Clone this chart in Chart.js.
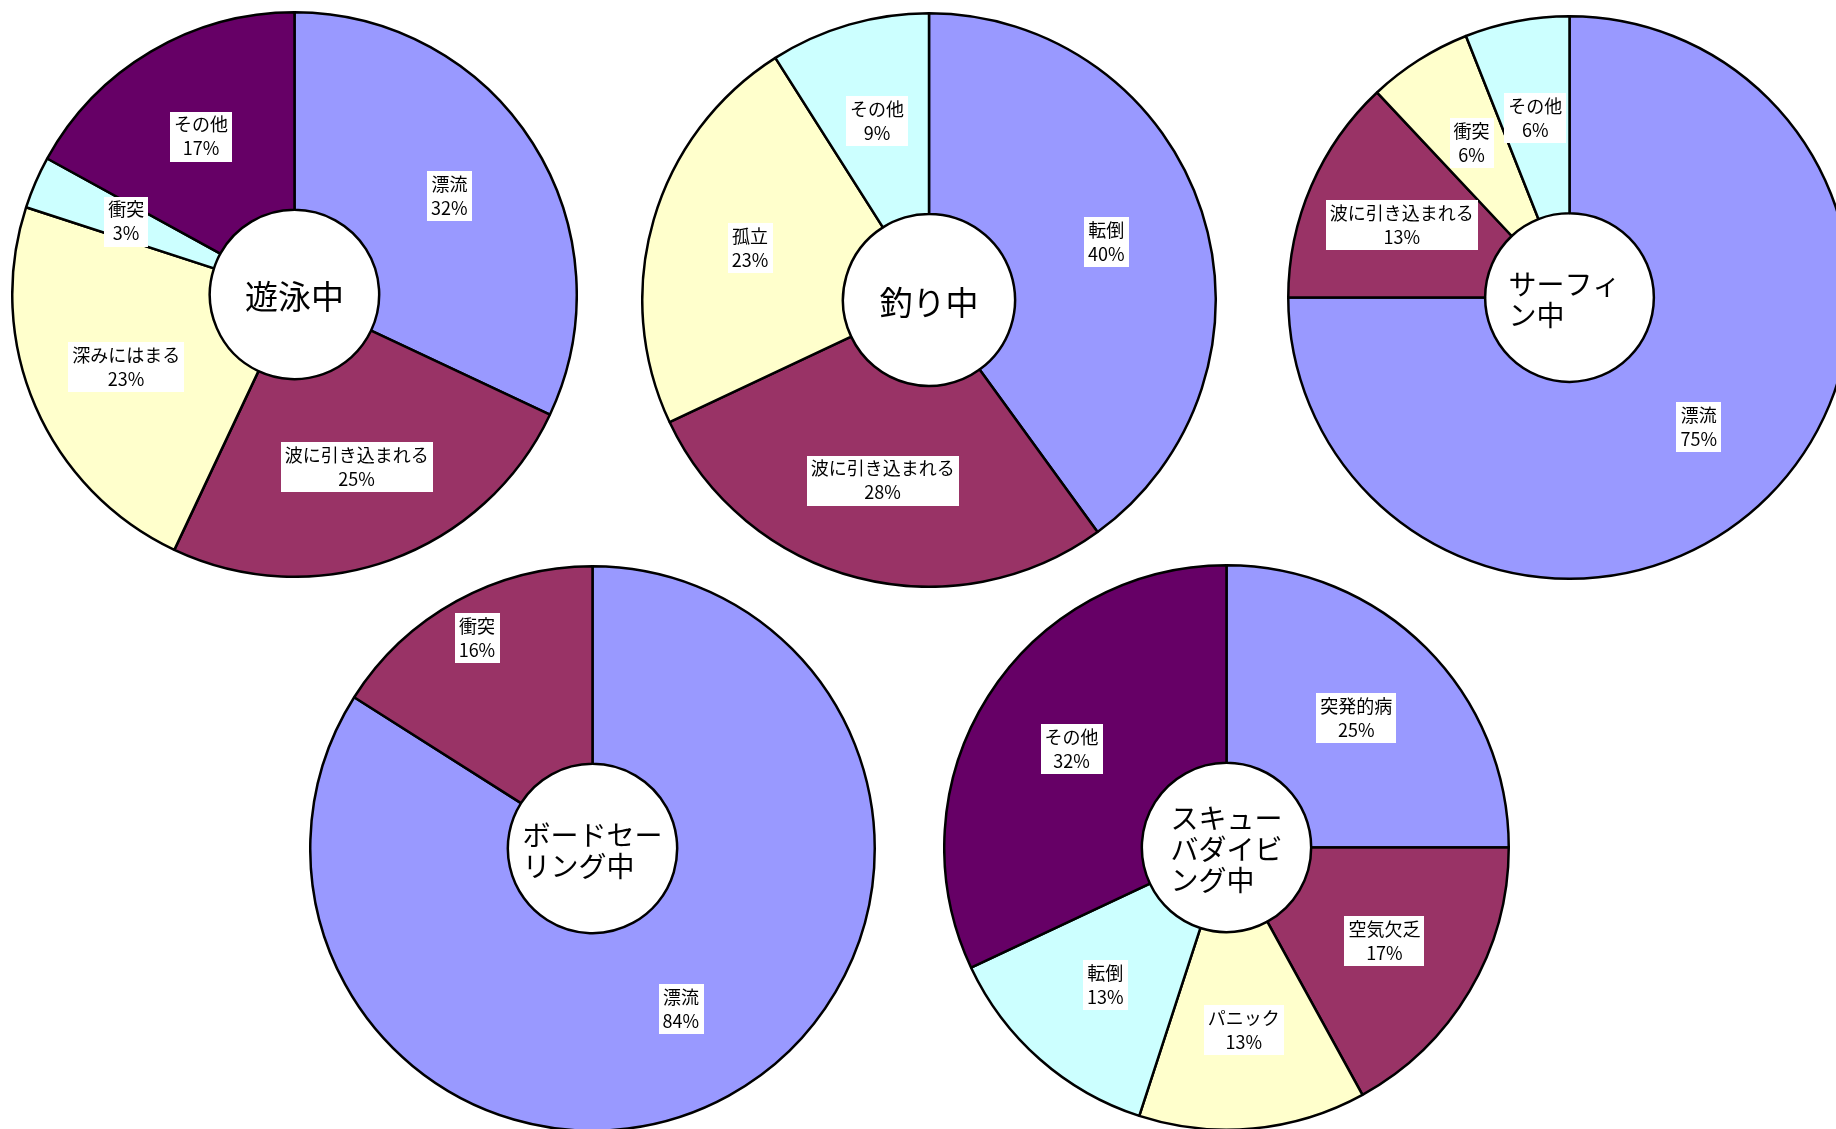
<!DOCTYPE html>
<html lang="ja">
<head>
<meta charset="utf-8">
<title>事故原因の内訳</title>
<script src="https://cdn.jsdelivr.net/npm/chart.js@4.4.1/dist/chart.umd.min.js"></script>
<style>
  html, body { margin: 0; padding: 0; background: #fff; }
  body { width: 1836px; height: 1129px; position: relative; overflow: hidden; }
  .pie { position: absolute; }
  .pie canvas { display: block; }
</style>
</head>
<body>
<div class="pie"><canvas id="swimChart"></canvas></div>
<div class="pie"><canvas id="fishingChart"></canvas></div>
<div class="pie"><canvas id="surfChart"></canvas></div>
<div class="pie"><canvas id="boardChart"></canvas></div>
<div class="pie"><canvas id="scubaChart"></canvas></div>

<script>
// 事故原因の内訳（%）
const swimTitle = ['遊泳中'];
const swimLabels = ['漂流', '波に引き込まれる', '深みにはまる', '衝突', 'その他'];
const swimValues = [32, 25, 23, 3, 17];

const fishingTitle = ['釣り中'];
const fishingLabels = ['転倒', '波に引き込まれる', '孤立', 'その他'];
const fishingValues = [40, 28, 23, 9];

const surfTitle = ['サーフィ', 'ン中'];
const surfLabels = ['漂流', '波に引き込まれる', '衝突', 'その他'];
const surfValues = [75, 13, 6, 6];

const boardTitle = ['ボードセー', 'リング中'];
const boardLabels = ['漂流', '衝突'];
const boardValues = [84, 16];

const scubaTitle = ['スキュー', 'バダイビ', 'ング中'];
const scubaLabels = ['突発的病', '空気欠乏', 'パニック', '転倒', 'その他'];
const scubaValues = [25, 17, 13, 13, 32];

// 色は項目の順番で割り当てる
const sliceColors = ['#9999FF', '#993366', '#FFFFCC', '#CCFFFF', '#660066'];

const FONT = "'Noto Sans CJK JP', 'Noto Sans', sans-serif";

// 各グラフの中心位置と半径（labelAt: 外周に寄せるラベルの半径比）
const charts = [
  { id: 'swimChart',    title: swimTitle,    labels: swimLabels,    values: swimValues,    cx: 294,  cy: 294,   r: 282 },
  { id: 'fishingChart', title: fishingTitle, labels: fishingLabels, values: fishingValues, cx: 929,  cy: 299.5, r: 286.5 },
  { id: 'surfChart',    title: surfTitle,    labels: surfLabels,    values: surfValues,    cx: 1569, cy: 297,   r: 281, titleShift: -5 },
  { id: 'boardChart',   title: boardTitle,   labels: boardLabels,   values: boardValues,   cx: 592,  cy: 848,   r: 282, labelAt: { 1: 0.85 } },
  { id: 'scubaChart',   title: scubaTitle,   labels: scubaLabels,   values: scubaValues,   cx: 1226, cy: 847,   r: 282 }
];

// 各扇形の中に白地の「項目名 / 割合」ラベルを描く
const sliceLabelPlugin = {
  id: 'sliceLabels',
  afterDatasetsDraw(chart, args, opts) {
    const ctx = chart.ctx;
    const meta = chart.getDatasetMeta(0);
    const labels = chart.data.labels;
    const values = chart.data.datasets[0].data;
    const labelAt = opts.labelAt || {};
    ctx.save();
    ctx.font = '18px ' + FONT;
    ctx.textAlign = 'center';
    ctx.textBaseline = 'middle';
    meta.data.forEach((arc, i) => {
      let pos = arc.tooltipPosition();
      if (labelAt[i]) {
        const mid = (arc.startAngle + arc.endAngle) / 2;
        const rr = arc.outerRadius * labelAt[i];
        pos = { x: arc.x + Math.cos(mid) * rr, y: arc.y + Math.sin(mid) * rr };
      }
      const line1 = labels[i];
      const line2 = values[i] + '%';
      const w = Math.max(ctx.measureText(line1).width, ctx.measureText(line2).width) + 8;
      const h = 50;
      ctx.fillStyle = '#fff';
      ctx.fillRect(Math.round(pos.x - w / 2), Math.round(pos.y - h / 2), Math.round(w), h);
      ctx.fillStyle = '#000';
      ctx.fillText(line1, pos.x, pos.y - 12);
      ctx.fillText(line2, pos.x, pos.y + 12);
    });
    ctx.restore();
  }
};

// 中央の穴にアクティビティ名を書く
const centerTitlePlugin = {
  id: 'centerTitle',
  afterDraw(chart, args, opts) {
    const lines = opts.lines || [];
    if (!lines.length) return;
    const ctx = chart.ctx;
    const arc = chart.getDatasetMeta(0).data[0];
    const size = lines.length === 1 ? 33 : 28;
    const lineH = 31;
    ctx.save();
    ctx.font = size + 'px ' + FONT;
    ctx.fillStyle = '#000';
    ctx.textBaseline = 'middle';
    ctx.textAlign = 'left';
    const blockW = Math.max(...lines.map(l => ctx.measureText(l).width));
    const x0 = arc.x - blockW / 2 + (opts.shift || 0);
    lines.forEach((line, i) => {
      const y = arc.y + (i - (lines.length - 1) / 2) * lineH + 2;
      ctx.fillText(line, x0, y);
    });
    ctx.restore();
  }
};

function initPie(cfg) {
  const canvas = document.getElementById(cfg.id);
  const size = Math.round(cfg.r * 2 + 3);
  const box = canvas.parentElement;
  box.style.left = (cfg.cx - size / 2) + 'px';
  box.style.top = (cfg.cy - size / 2) + 'px';
  box.style.width = size + 'px';
  box.style.height = size + 'px';
  canvas.width = size;
  canvas.height = size;

  new Chart(canvas, {
    type: 'doughnut',
    data: {
      labels: cfg.labels,
      datasets: [{
        data: cfg.values,
        backgroundColor: sliceColors.slice(0, cfg.values.length),
        borderColor: '#000',
        borderWidth: 2.5,
        hoverOffset: 0,
        offset: 0
      }]
    },
    options: {
      responsive: false,
      devicePixelRatio: 1,
      animation: false,
      events: [],
      cutout: '30%',
      layout: { padding: 0 },
      plugins: {
        legend: { display: false },
        tooltip: { enabled: false },
        sliceLabels: { labelAt: cfg.labelAt },
        centerTitle: { lines: cfg.title, shift: cfg.titleShift }
      }
    },
    plugins: [sliceLabelPlugin, centerTitlePlugin]
  });
}

function initAllCharts() {
  if (typeof Chart === 'undefined') {
    console.error('Chart.js が読み込まれていません');
    return;
  }
  charts.forEach(initPie);
}

if (document.readyState === 'loading') {
  document.addEventListener('DOMContentLoaded', initAllCharts);
} else {
  initAllCharts();
}
</script>
</body>
</html>
